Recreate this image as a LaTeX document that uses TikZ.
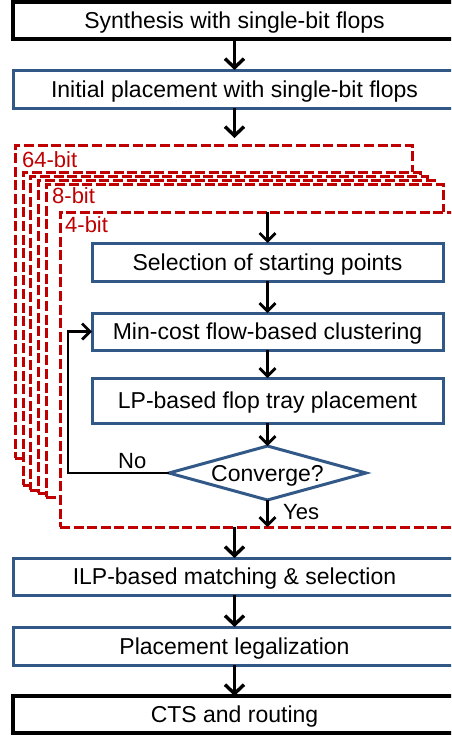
\documentclass[tikz,border=0pt]{standalone}
\usepackage{fontspec}
\setmainfont{Liberation Sans}
\usetikzlibrary{arrows.meta,shapes.geometric}
\definecolor{bblue}{RGB}{50,88,135}
\definecolor{dred}{RGB}{192,0,0}
\begin{document}
\begin{tikzpicture}[x=1pt,y=-1pt,
  txt/.style={font=\fontsize{23}{27}\selectfont, text height=16.5pt, text depth=0pt, inner sep=0pt, outer sep=0pt},
  bluebox/.style={txt, rectangle, draw=bblue, line width=3pt, fill=white},
  blackbox/.style={txt, rectangle, draw=black, line width=3.6pt, fill=white},
  dbox/.style={rectangle, draw=dred, line width=3pt, dash pattern=on 10pt off 3.6pt, fill=white, inner sep=0pt, outer sep=0pt},
  dlabel/.style={text=dred, font=\fontsize{22}{26}\selectfont, anchor=base west, inner sep=0pt},
  lbl/.style={font=\fontsize{22}{26}\selectfont, anchor=base west, inner sep=0pt},
  bigarrow/.style={line width=3.4pt, -{Straight Barb[length=9pt,width=19pt]}},
  arr/.style={line width=2.8pt, -{Straight Barb[length=8pt,width=16pt]}},
]
\useasboundingbox (0,0) rectangle (451,736);
\clip (0,0) rectangle (451,736);

% stacked dashed frames (back to front)
\node[dbox, minimum width=397pt, minimum height=313pt] (A) at (213.5,301.5) {};
\node[dbox, minimum width=397pt, minimum height=313pt] (B) at (221.5,328.5) {};
\node[dbox, minimum width=397pt, minimum height=314pt] (C) at (228.5,333) {};
\node[dbox, minimum width=396pt, minimum height=313pt] (D) at (236,336.5) {};
\node[dbox, minimum width=397pt, minimum height=313pt] (E) at (244.5,340.5) {};
\node[dbox, minimum width=415pt, minimum height=315pt] (F) at (267.5,369.5) {};
\node[dlabel] (l64) at (22,167) {64-bit};
\node[dlabel] (l8) at (52,203) {8-bit};
\node[dlabel] (l4) at (65,232) {4-bit};

% main boxes
\node[blackbox, minimum width=443pt, minimum height=37pt] (synth) at (234.5,20.5) {Synthesis with single-bit flops};
\node[bluebox, minimum width=443pt, minimum height=38pt] (init) at (234.5,89) {Initial placement with single-bit flops};
\node[bluebox, minimum width=351pt, minimum height=38pt] (sel) at (267.5,262) {Selection of starting points};
\node[bluebox, minimum width=351pt, minimum height=37pt] (min) at (267.5,331.5) {Min-cost flow-based clustering};
\node[bluebox, minimum width=351pt, minimum height=45pt] (lp) at (267.5,400.5) {LP-based flop tray placement};
\node[txt, diamond, draw=bblue, line width=3pt, fill=white, aspect=3.65, minimum width=197pt, minimum height=54pt] (conv) at (267.5,473) {Converge?};
\node[bluebox, minimum width=443pt, minimum height=37pt] (ilp) at (234.5,576.5) {ILP-based matching \& selection};
\node[bluebox, minimum width=443pt, minimum height=38pt] (place) at (234.5,646) {Placement legalization};
\node[blackbox, minimum width=443pt, minimum height=37pt] (cts) at (234.5,714.5) {CTS and routing};

\node[lbl] (no) at (118,468) {No};
\node[lbl] (yes) at (283,519) {Yes};

% connectors
\draw[bigarrow] (synth.south) -- (init.north);
\draw[bigarrow, shorten >=7pt] (init.south) -- (init.south |- A.north);
\draw[arr] (F.north) -- (sel.north);
\draw[arr] (sel.south) -- (min.north);
\draw[arr] (min.south) -- (lp.north);
\draw[arr] (lp.south) -- (conv.north);
\draw[arr] (conv.south) -- (conv.south |- F.south);
\draw[arr] (conv.west) -- ++(-101,0) |- (min.west);
\draw[bigarrow] (ilp.north |- F.south) -- (ilp.north);
\draw[bigarrow] (ilp.south) -- (place.north);
\draw[bigarrow] (place.south) -- (cts.north);
\end{tikzpicture}
\end{document}
